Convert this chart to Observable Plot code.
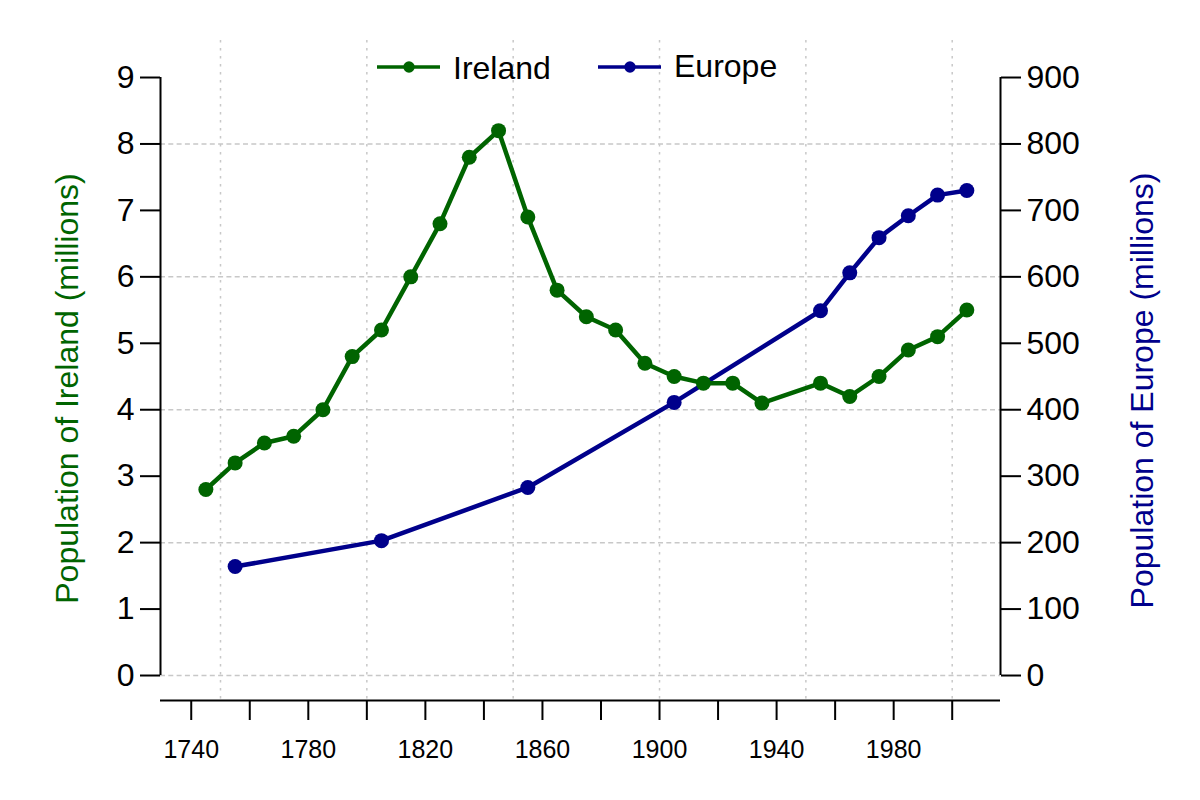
<!DOCTYPE html>
<html><head><meta charset="utf-8">
<script src="https://cdn.jsdelivr.net/npm/d3@7"></script>
<script src="https://cdn.jsdelivr.net/npm/@observablehq/plot@0.6"></script>
<style>
html,body{margin:0;padding:0;background:#fff;}
#wrap{position:relative;width:1200px;height:800px;font-family:"Liberation Sans",Arial,Helvetica,sans-serif;}
#wrap svg{display:block;}
</style></head><body>
<div id="wrap"></div>
<script>
// ---- data ----
const irelandYears = [1745,1755,1765,1775,1785,1795,1805,1815,1825,1835,1845,1855,1865,1875,1885,1895,1905,1915,1925,1935,1955,1965,1975,1985,1995,2005];
const irelandPop   = [2.8,3.2,3.5,3.6,4.0,4.8,5.2,6.0,6.8,7.8,8.2,6.9,5.8,5.4,5.2,4.7,4.5,4.4,4.4,4.1,4.4,4.2,4.5,4.9,5.1,5.5];
const europeYears  = [1755,1805,1855,1905,1955,1965,1975,1985,1995,2005];
const europePop    = [164,203,283,411,549,606,659,692,723,730];
const xTicks = [1740,1760,1780,1800,1820,1840,1860,1880,1900,1920,1940,1960,1980,2000];
const xLabels = ["1740","","1780","","1820","","1860","","1900","","1940","","1980",""];
const gridXValues = [1750,1800,1850,1900,1950,2000];
const yTicks = [0,1,2,3,4,5,6,7,8,9];
const yRightLabels = ["0","100","200","300","400","500","600","700","800","900"];
const gridYValues = [0,2,4,6,8];
const seriesNames = ["Ireland","Europe"];
const seriesColors = ["#006400","#00008B"];
const leftTitle = "Population of Ireland (millions)";
const rightTitle = "Population of Europe (millions)";
const europeScale = 100; // right axis = left axis x 100

const ireland = irelandYears.map((year,i)=>({year, pop: irelandPop[i]}));
const europe = europeYears.map((year,i)=>({year, pop: europePop[i]/europeScale}));

const xDomain = [1729.5, 2016.5];
const yDomain = [-0.376, 9.557];
const font = '"Liberation Sans",Arial,Helvetica,sans-serif';
const gridStyle = {stroke:"#c8c8c8", strokeOpacity:1, strokeWidth:1.5};

const chart = Plot.plot({
  width:1200, height:800,
  marginLeft:160, marginRight:200, marginTop:40, marginBottom:100,
  style:{fontFamily:font, background:"#fff", color:"#000"},
  x:{domain:xDomain},
  y:{domain:yDomain},
  marks:[
    Plot.gridX(gridXValues, {...gridStyle, strokeDasharray:"2.5,5.5"}),
    Plot.gridY(gridYValues, {...gridStyle, strokeDasharray:"5,3.3"}),
    Plot.ruleY([yDomain[0]], {stroke:"#000", strokeWidth:2}),
    Plot.ruleX([xDomain[0]], {y1: yTicks[0], y2: yTicks[yTicks.length-1], stroke:"#000", strokeWidth:2}),
    Plot.ruleX([xDomain[1]], {y1: yTicks[0], y2: yTicks[yTicks.length-1], stroke:"#000", strokeWidth:2}),
    Plot.axisX({ticks:xTicks, tickFormat:(d)=>xLabels[xTicks.indexOf(d)], tickSize:20, tickPadding:20, fontSize:25, strokeWidth:2, label:null}),
    Plot.axisY({anchor:"left", ticks:yTicks, tickFormat:(d)=>String(d), tickSize:20, tickPadding:6, fontSize:32, strokeWidth:2, label:null}),
    Plot.axisY({anchor:"right", ticks:yTicks, tickFormat:(d)=>yRightLabels[yTicks.indexOf(d)], tickSize:20, tickPadding:6, fontSize:32, strokeWidth:2, label:null}),
    Plot.line(europe, {x:"year", y:"pop", stroke:seriesColors[1], strokeWidth:4.5}),
    Plot.dot(europe, {x:"year", y:"pop", r:7.5, fill:seriesColors[1], stroke:"none"}),
    Plot.line(ireland, {x:"year", y:"pop", stroke:seriesColors[0], strokeWidth:4.5}),
    Plot.dot(ireland, {x:"year", y:"pop", r:7.5, fill:seriesColors[0], stroke:"none"}),
    Plot.text([leftTitle], {text:(d)=>d, frameAnchor:"left", textAnchor:"middle", rotate:-90, dx:-93, dy:18, fontSize:32, fill:seriesColors[0], lineAnchor:"middle"}),
    Plot.text([rightTitle], {text:(d)=>d, frameAnchor:"right", textAnchor:"middle", rotate:-90, dx:142, dy:20, fontSize:32, fill:seriesColors[1], lineAnchor:"middle"})
  ]
});
const wrap = document.getElementById("wrap");
wrap.appendChild(chart);

// ---- legend (overlay at top) ----
const legendPos = [{x:377, baseline:79}, {x:598, baseline:77}];
const legend = d3.create("svg")
  .attr("width",1200).attr("height",100)
  .style("position","absolute").style("left","0").style("top","0")
  .style("font-family", font);
seriesNames.forEach((name,i)=>{
  const g = legend.append("g").attr("transform",`translate(${legendPos[i].x},0)`);
  g.append("line").attr("x1",0).attr("x2",63).attr("y1",67).attr("y2",67)
    .attr("stroke",seriesColors[i]).attr("stroke-width",3.5);
  g.append("circle").attr("cx",32).attr("cy",67).attr("r",5.7).attr("fill",seriesColors[i]);
  g.append("text").attr("x",76).attr("y",legendPos[i].baseline).attr("font-size",32).attr("fill","#000").text(name);
});
wrap.appendChild(legend.node());
</script>
</body></html>
